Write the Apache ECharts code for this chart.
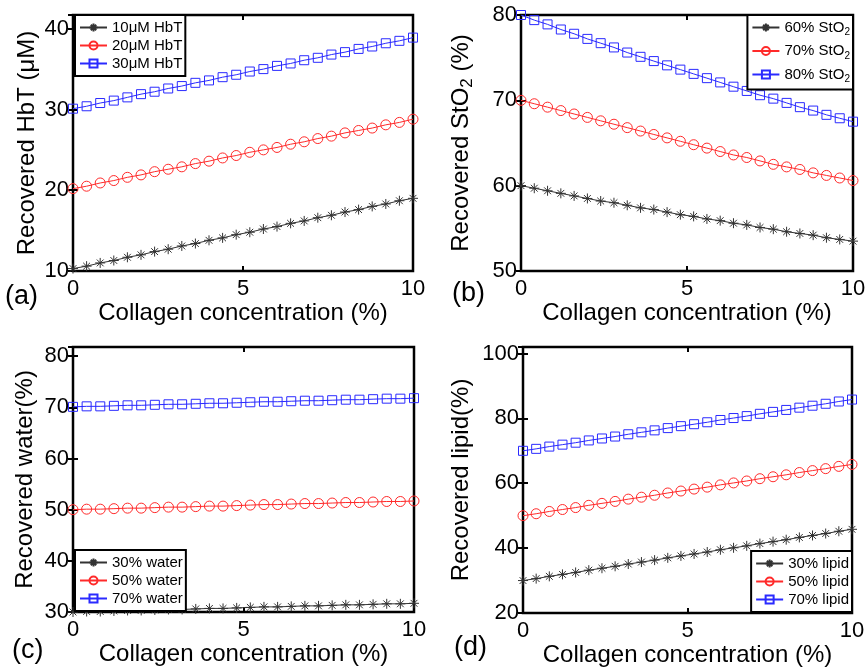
<!DOCTYPE html>
<html>
<head>
<meta charset="utf-8">
<title>Recovered values vs collagen concentration</title>
<script src="https://cdn.jsdelivr.net/npm/echarts@6/dist/echarts.min.js"></script>
<style>
  html, body { margin: 0; padding: 0; background: #fff; }
  #main { width: 867px; height: 669px; }
</style>
</head>
<body>
<div id="main"></div>
<script>
// collagen concentration (%) - same 26 points in every panel
const collagen = [0, 0.4, 0.8, 1.2, 1.6, 2, 2.4, 2.8, 3.2, 3.6, 4, 4.4, 4.8, 5.2, 5.6, 6, 6.4, 6.8, 7.2, 7.6, 8, 8.4, 8.8, 9.2, 9.6, 10]

// (a) recovered HbT (uM)
const hbt10 = [10.3, 10.6, 11.0, 11.3, 11.7, 12.0, 12.4, 12.7, 13.1, 13.4, 13.8, 14.1, 14.5, 14.8, 15.2, 15.5, 15.9, 16.2, 16.6, 16.9, 17.3, 17.6, 18.0, 18.3, 18.7, 19.0]
const hbt20 = [20.2, 20.5, 20.9, 21.2, 21.6, 21.9, 22.3, 22.6, 22.9, 23.3, 23.6, 24.0, 24.3, 24.7, 25.0, 25.3, 25.7, 26.0, 26.4, 26.7, 27.1, 27.4, 27.7, 28.1, 28.4, 28.8]
const hbt30 = [30.1, 30.4, 30.8, 31.1, 31.5, 31.9, 32.2, 32.6, 32.9, 33.3, 33.6, 34.0, 34.3, 34.7, 35.0, 35.4, 35.7, 36.1, 36.4, 36.8, 37.1, 37.5, 37.8, 38.2, 38.5, 38.9]

// (b) recovered StO2 (%)
const sto60 = [60.0, 59.7, 59.4, 59.1, 58.8, 58.5, 58.2, 58.0, 57.7, 57.4, 57.2, 56.9, 56.6, 56.4, 56.1, 55.9, 55.6, 55.4, 55.1, 54.9, 54.6, 54.4, 54.2, 53.9, 53.7, 53.5]
const sto70 = [70.0, 69.6, 69.2, 68.8, 68.4, 68.0, 67.6, 67.2, 66.8, 66.4, 66.0, 65.6, 65.2, 64.8, 64.4, 64.0, 63.6, 63.3, 62.9, 62.5, 62.2, 61.9, 61.5, 61.2, 60.9, 60.6]
const sto80 = [80.0, 79.4, 78.9, 78.3, 77.8, 77.2, 76.7, 76.2, 75.6, 75.1, 74.6, 74.1, 73.6, 73.1, 72.6, 72.1, 71.6, 71.1, 70.6, 70.2, 69.7, 69.2, 68.8, 68.3, 67.9, 67.5]

// (c) recovered water (%)
const water30 = [30.0, 30.1, 30.1, 30.2, 30.3, 30.3, 30.4, 30.5, 30.5, 30.6, 30.7, 30.7, 30.8, 30.9, 31.0, 31.0, 31.1, 31.2, 31.2, 31.3, 31.4, 31.4, 31.5, 31.6, 31.6, 31.7]
const water50 = [50.0, 50.1, 50.1, 50.2, 50.3, 50.3, 50.4, 50.5, 50.5, 50.6, 50.7, 50.7, 50.8, 50.9, 51.0, 51.0, 51.1, 51.2, 51.2, 51.3, 51.4, 51.4, 51.5, 51.6, 51.6, 51.7]
const water70 = [70.1, 70.2, 70.2, 70.3, 70.4, 70.4, 70.5, 70.6, 70.6, 70.7, 70.8, 70.8, 70.9, 71.0, 71.1, 71.1, 71.2, 71.3, 71.3, 71.4, 71.5, 71.5, 71.6, 71.7, 71.7, 71.8]

// (d) recovered lipid (%)
const lipid30 = [30.0, 30.6, 31.3, 31.9, 32.5, 33.2, 33.8, 34.4, 35.1, 35.7, 36.3, 37.0, 37.6, 38.2, 38.8, 39.5, 40.1, 40.7, 41.4, 42.0, 42.6, 43.3, 43.9, 44.5, 45.2, 45.8]
const lipid50 = [50.0, 50.6, 51.3, 51.9, 52.5, 53.2, 53.8, 54.4, 55.1, 55.7, 56.3, 57.0, 57.6, 58.2, 58.8, 59.5, 60.1, 60.7, 61.4, 62.0, 62.6, 63.3, 63.9, 64.5, 65.2, 65.8]
const lipid70 = [70.0, 70.6, 71.3, 71.9, 72.5, 73.2, 73.8, 74.4, 75.1, 75.7, 76.3, 77.0, 77.6, 78.2, 78.8, 79.5, 80.1, 80.7, 81.4, 82.0, 82.6, 83.3, 83.9, 84.5, 85.2, 85.8]

// legend names
const namesA = ['10μM HbT', '20μM HbT', '30μM HbT']
const namesB = ['60% StO2', '70% StO2', '80% StO2']
const namesC = ['30% water', '50% water', '70% water']
const namesD = ['30% lipid', '50% lipid', '70% lipid']

// y ranges [min, max, tick step] per panel (tops of a, c, d sit a bit above the last tick)
const yRanges = [[10, 41.7, 10], [50, 80, 10], [30, 81.8, 10], [20, 102, 20]]
const xTitle = 'Collagen concentration (%)'

const FONT = '"Liberation Sans", Arial, sans-serif'
const BLACK = '#333'
const RED = '#ff2a2a'
const BLUE = '#2a2aff'

// asterisk marker (matlab '*')
const STAR = 'path://M5,0L5,10M0,5L10,5M1.6,1.6L8.4,8.4M1.6,8.4L8.4,1.6'

// grid boxes in px
const boxes = [
  { left: 73, top: 15, width: 340, height: 256 },
  { left: 521, top: 15, width: 332, height: 256 },
  { left: 73, top: 347, width: 341, height: 265 },
  { left: 523, top: 347, width: 329, height: 266 },
]
const yNameGaps = [34, 45, 36, 50]

const chart = echarts.init(document.getElementById('main'))

function pairs(ys) {
  return collagen.map((x, i) => [x, ys[i]])
}

function makeSeries(name, ys, g, kind) {
  const s = {
    name: name,
    type: 'line',
    xAxisIndex: g * 2,
    yAxisIndex: g * 2,
    data: pairs(ys),
    animation: false,
    lineStyle: { width: 1 },
  }
  if (kind === 0) {
    s.symbol = STAR
    s.symbolSize = 10
    s.lineStyle.color = BLACK
    s.itemStyle = { color: BLACK, borderColor: BLACK, borderWidth: 1 }
  } else if (kind === 1) {
    s.symbol = 'circle'
    s.symbolSize = 10
    s.lineStyle.color = RED
    s.itemStyle = { color: 'rgba(255,255,255,0)', borderColor: RED, borderWidth: 1 }
  } else {
    s.symbol = 'rect'
    s.symbolSize = 9
    s.lineStyle.color = BLUE
    s.itemStyle = { color: 'rgba(255,255,255,0)', borderColor: BLUE, borderWidth: 1 }
  }
  return s
}

const tickStyle = { inside: true, length: 5, lineStyle: { color: '#000', width: 2 } }

const xAxis = []
const yAxis = []
boxes.forEach((b, g) => {
  // bottom axis with labels + mirrored top ticks
  xAxis.push({
    gridIndex: g, type: 'value', min: 0, max: 10, interval: 5, position: 'bottom',
    axisLine: { show: false }, splitLine: { show: false }, axisTick: tickStyle,
    axisLabel: { margin: 7, fontFamily: FONT, fontSize: 22, color: '#000' },
    name: xTitle, nameLocation: 'middle', nameGap: 30,
    nameTextStyle: { fontFamily: FONT, fontSize: 24, color: '#000' },
  })
  xAxis.push({
    gridIndex: g, type: 'value', min: 0, max: 10, interval: 5, position: 'top',
    axisLine: { show: false }, splitLine: { show: false }, axisTick: tickStyle,
    axisLabel: { show: false },
  })
  const r = yRanges[g]
  // only label whole ticks, not the odd axis top
  const fmt = (v) => (Math.abs(v % r[2]) < 1e-9 ? String(v) : '')
  yAxis.push({
    gridIndex: g, type: 'value', min: r[0], max: r[1], interval: r[2], position: 'left',
    axisLine: { show: false }, splitLine: { show: false }, axisTick: tickStyle,
    axisLabel: { margin: 4, fontFamily: FONT, fontSize: 22, color: '#000', formatter: fmt },
    nameLocation: 'middle', nameGap: yNameGaps[g],
    nameTextStyle: { fontFamily: FONT, fontSize: 24, color: '#000' },
  })
  yAxis.push({
    gridIndex: g, type: 'value', min: r[0], max: r[1], interval: r[2], position: 'right',
    axisLine: { show: false }, splitLine: { show: false }, axisTick: tickStyle,
    axisLabel: { show: false },
  })
})

yAxis[0].name = 'Recovered HbT (μM)'
yAxis[2].name = '{t|Recovered StO}{s|2}{t| (%)}'
yAxis[2].nameTextStyle.rich = {
  t: { fontFamily: FONT, fontSize: 24, color: '#000', lineHeight: 30 },
  s: { fontFamily: FONT, fontSize: 17, color: '#000', lineHeight: 17, verticalAlign: 'bottom' },
}
yAxis[4].name = 'Recovered water(%)'
yAxis[6].name = 'Recovered lipid(%)'

const series = []
const panels = [
  [namesA, [hbt10, hbt20, hbt30]],
  [namesB, [sto60, sto70, sto80]],
  [namesC, [water30, water50, water70]],
  [namesD, [lipid30, lipid50, lipid70]],
]
panels.forEach((p, g) => {
  p[1].forEach((ys, k) => series.push(makeSeries(p[0][k], ys, g, k)))
})

function legendBox(names, pos) {
  return Object.assign({
    orient: 'vertical',
    data: names,
    selectedMode: false,
    backgroundColor: '#fff',
    borderColor: '#000',
    borderWidth: 2,
    borderRadius: 0,
    padding: [5, 3, 5, 4],
    itemGap: 3,
    itemWidth: 27,
    itemHeight: 10,
    textStyle: { fontFamily: FONT, fontSize: 15, color: '#000' },
  }, pos)
}

const legendB = legendBox(namesB, { right: 14, top: 15, itemGap: 6 })
legendB.formatter = (name) => '{t|' + name.slice(0, -1) + '}{s|2}'
legendB.textStyle.rich = {
  t: { fontFamily: FONT, fontSize: 15, color: '#000', lineHeight: 20 },
  s: { fontFamily: FONT, fontSize: 10, color: '#000', lineHeight: 10, verticalAlign: 'bottom' },
}

const option = {
  backgroundColor: '#fff',
  animation: false,
  grid: boxes.map((b) => Object.assign({
    show: true, borderColor: '#000', borderWidth: 2.5, backgroundColor: '#fff',
    containLabel: false, outerBoundsMode: 'none',
  }, b)),
  xAxis: xAxis,
  yAxis: yAxis,
  legend: [
    legendBox(namesA, { left: 75, top: 15 }),
    legendB,
    legendBox(namesC, { left: 75, bottom: 58 }),
    legendBox(namesD, { right: 15, bottom: 57 }),
  ],
  // panel tags
  graphic: [
    { type: 'text', left: 5, top: 283, style: { text: '(a)', font: '27px ' + FONT, fill: '#000' } },
    { type: 'text', left: 452, top: 280, style: { text: '(b)', font: '27px ' + FONT, fill: '#000' } },
    { type: 'text', left: 12, top: 637, style: { text: '(c)', font: '27px ' + FONT, fill: '#000' } },
    { type: 'text', left: 454, top: 634, style: { text: '(d)', font: '27px ' + FONT, fill: '#000' } },
  ],
  series: series,
}

chart.setOption(option)
</script>
</body>
</html>
